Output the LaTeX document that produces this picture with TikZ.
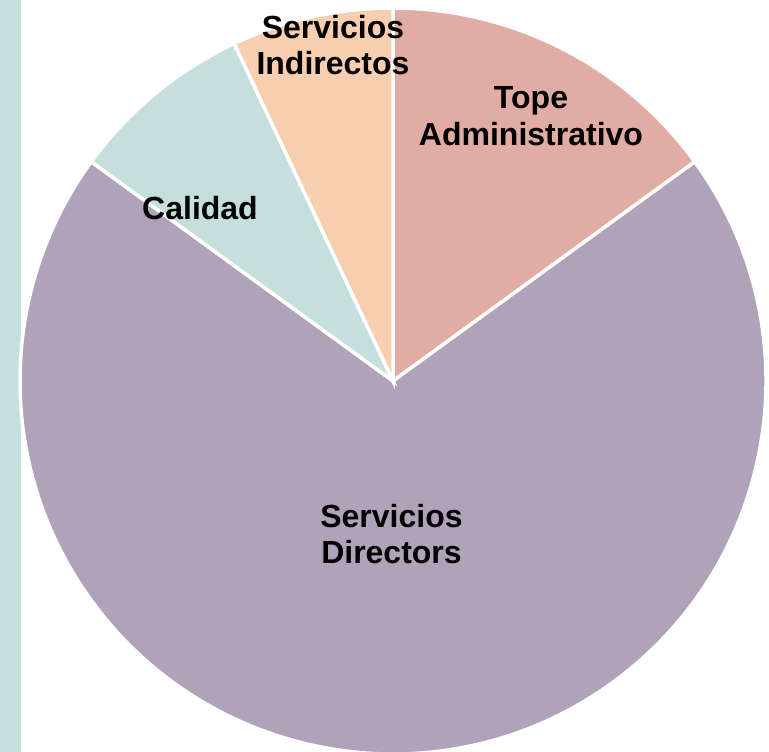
\documentclass[tikz,border=0pt]{standalone}
\usepackage{fontspec}
\setmainfont{Liberation Sans}
\definecolor{topec}{RGB}{224,172,164}
\definecolor{dirc}{RGB}{176,162,184}
\definecolor{calc}{RGB}{197,224,220}
\definecolor{indc}{RGB}{247,206,176}
\begin{document}
\begin{tikzpicture}[x=1pt,y=1pt,
  slice/.style={draw=white,line width=3.5pt,line join=miter},
  lbl/.style={font=\fontsize{32}{36.5}\selectfont\bfseries,align=center,inner sep=0pt,text=black}]
\useasboundingbox (0,0) rectangle (769,752);
\fill[calc] (0,0) rectangle (21,752);
\coordinate (c) at (393,371);
\def\R{373}
\filldraw[slice,fill=topec] (c) -- ++(90:\R) arc[start angle=90,end angle=36,radius=\R] -- cycle;
\filldraw[slice,fill=dirc] (c) -- ++(36:\R) arc[start angle=36,end angle=-216,radius=\R] -- cycle;
\filldraw[slice,fill=calc] (c) -- ++(144:\R) arc[start angle=144,end angle=115.2,radius=\R] -- cycle;
\filldraw[slice,fill=indc] (c) -- ++(115.2:\R) arc[start angle=115.2,end angle=90,radius=\R] -- cycle;
\node[lbl] (tope) at (531,636) {Tope\\Administrativo};
\node[lbl] (dir) at (391.5,218) {Servicios\\Directors};
\node[lbl] (cal) at (200,544) {Calidad};
\node[lbl] (ind) at (333,707) {Servicios\\Indirectos};
\end{tikzpicture}
\end{document}
